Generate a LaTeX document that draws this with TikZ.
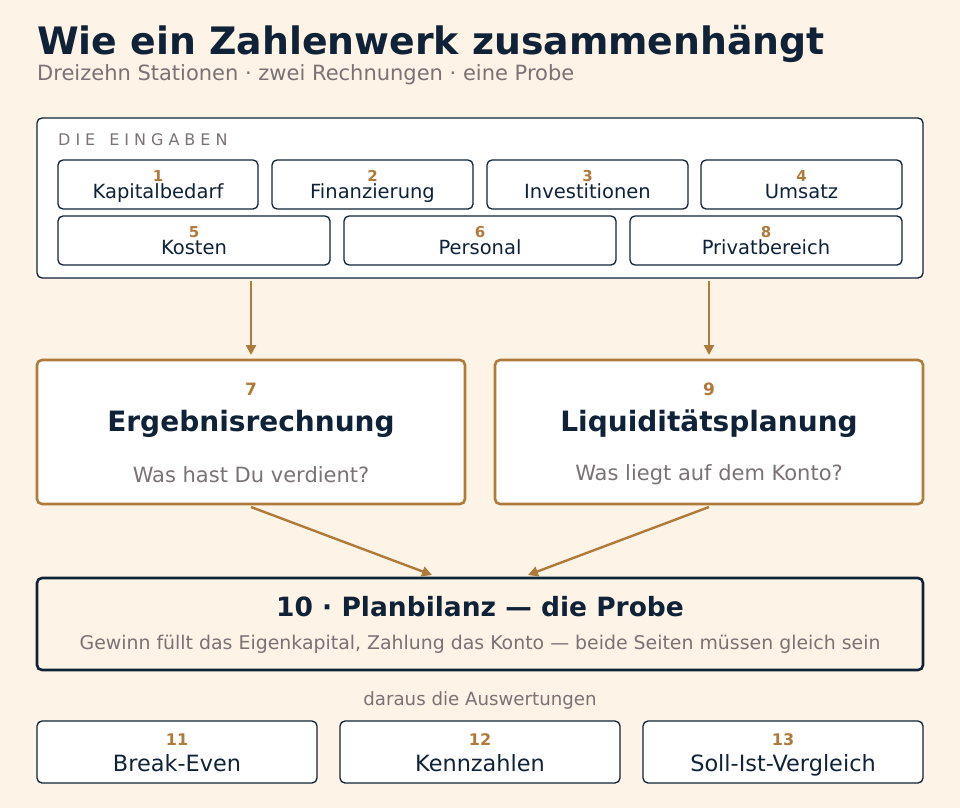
\documentclass[tikz,border=0pt]{standalone}
\usepackage{fontspec}
\setmainfont{DejaVu Sans}
\definecolor{pagecream}{HTML}{FDF3E6}
\definecolor{inknavy}{HTML}{0F2238}
\definecolor{inkbrown}{HTML}{B07A3A}
\definecolor{inkgrey}{HTML}{7A7275}
\usetikzlibrary{arrows.meta, positioning, calc}

\begin{document}
\begin{tikzpicture}[x=1pt, y=-1pt,
    inbox/.style={draw=inknavy, fill=white, rounded corners=5pt, line width=1.3pt},
    calcbox/.style={draw=inkbrown, fill=white, rounded corners=5pt, line width=2.6pt},
    num/.style={anchor=base, inner sep=0pt, font=\fontsize{15}{15}\selectfont\bfseries, text=inkbrown},
    lbl/.style={anchor=base, inner sep=0pt, font=\fontsize{19.5}{19.5}\selectfont, text=inknavy},
    flow/.style={-{Triangle[length=10pt,width=10pt]}, draw=inkbrown, line width=2.4pt}]
  \fill[pagecream] (0,0) rectangle (960,808);
  \useasboundingbox (0,0) rectangle (960,808);
  % title
  \node[anchor=base west, inner sep=0pt, font=\fontsize{37.8}{37.8}\selectfont\bfseries, text=inknavy] (title) at (37,55) {Wie ein Zahlenwerk zusammenhängt};
  \node[anchor=base west, inner sep=0pt, font=\fontsize{21}{21}\selectfont, text=inkgrey] (subtitle) at (37,81) {Dreizehn Stationen · zwei Rechnungen · eine Probe};
  % inputs
  \draw[inbox] (37,118) rectangle (923,278);
  \node[anchor=base west, inner sep=0pt, font=\fontsize{16}{16}\selectfont, text=inkgrey] (inhead) at (58,145) {D\hskip5ptI\hskip5ptE\hskip14ptE\hskip5ptI\hskip5ptN\hskip5ptG\hskip5ptA\hskip5ptB\hskip5ptE\hskip5ptN};
  \foreach \xa/\xb/\n/\t in {58/258/1/Kapitalbedarf, 272/473/2/Finanzierung, 487/688/3/Investitionen, 701/902/4/Umsatz} {
    \draw[inbox] (\xa,160) rectangle (\xb,209);
    \node[num] at ({(\xa+\xb)/2},181) {\n};
    \node[lbl] at ({(\xa+\xb)/2},198) {\t};
  }
  \foreach \xa/\xb/\n/\t in {58/330/5/Kosten, 344/616/6/Personal, 630/902/8/Privatbereich} {
    \draw[inbox] (\xa,216) rectangle (\xb,265);
    \node[num] at ({(\xa+\xb)/2},237) {\n};
    \node[lbl] at ({(\xa+\xb)/2},254) {\t};
  }
  \coordinate (inL) at (251,281);
  \coordinate (inR) at (709,281);
  % the two calculations
  \foreach \xa/\xb/\n/\t/\q/\name in {37/465/7/Ergebnisrechnung/Was hast Du verdient?/erg, 495/923/9/Liquiditätsplanung/Was liegt auf dem Konto?/liq} {
    \draw[calcbox] (\xa,360) rectangle (\xb,504);
    \node[num, font=\fontsize{17}{17}\selectfont\bfseries] at ({(\xa+\xb)/2},395) {\n};
    \node[font=\fontsize{28}{28}\selectfont\bfseries, text=inknavy] at ({(\xa+\xb)/2},424) {\t};
    \node[font=\fontsize{21}{21}\selectfont, text=inkgrey] at ({(\xa+\xb)/2},475) {\q};
    \coordinate (\name top) at ({(\xa+\xb)/2},355);
    \coordinate (\name bot) at ({(\xa+\xb)/2},507);
  }
  \draw[flow] (inL) -- (ergtop);
  \draw[flow] (inR) -- (liqtop);
  % balance sheet
  \draw[draw=inknavy, fill=pagecream, rounded corners=5pt, line width=2.6pt] (37,578) rectangle (923,670);
  \node[font=\fontsize{26.5}{26.5}\selectfont\bfseries, text=inknavy] (bil) at (480,607) {10 · Planbilanz — die Probe};
  \node[font=\fontsize{18.9}{18.9}\selectfont, text=inkgrey] (bilsub) at (480,644) {Gewinn füllt das Eigenkapital, Zahlung das Konto — beide Seiten müssen gleich sein};
  \coordinate (bilL) at (432,575);
  \coordinate (bilR) at (528,575);
  \draw[flow] (ergbot) -- (bilL);
  \draw[flow] (liqbot) -- (bilR);
  % evaluations
  \node[font=\fontsize{18.2}{18.2}\selectfont, text=inkgrey] (daraus) at (480,700) {daraus die Auswertungen};
  \foreach \xa/\xb/\n/\t in {37/317/11/Break-Even, 340/620/12/Kennzahlen, 643/923/13/Soll-Ist-Vergleich} {
    \draw[inbox] (\xa,721) rectangle (\xb,783);
    \node[num, font=\fontsize{16}{16}\selectfont\bfseries] at ({(\xa+\xb)/2},745) {\n};
    \node[lbl, font=\fontsize{22.4}{22.4}\selectfont] at ({(\xa+\xb)/2},771) {\t};
  }
\end{tikzpicture}
\end{document}
